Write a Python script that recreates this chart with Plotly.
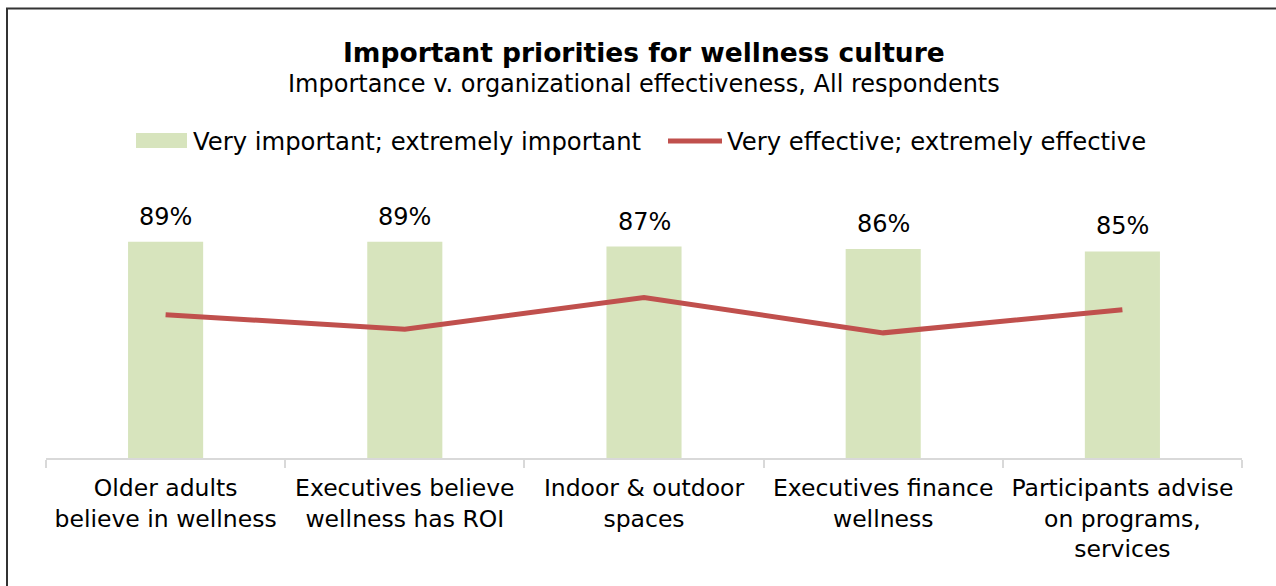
import plotly.graph_objects as go

categories = [
    "Older adults<br>believe in wellness",
    "Executives believe<br>wellness has ROI",
    "Indoor &amp; outdoor<br>spaces",
    "Executives finance<br>wellness",
    "Participants advise<br>on programs,<br>services",
]
important = [89, 89, 87, 86, 85]
effective = [59, 53, 66, 51.5, 61]

bar_name = "Very important; extremely important"
line_name = "Very effective; extremely effective"
title_text = "Important priorities for wellness culture"
subtitle_text = "Importance v. organizational effectiveness, All respondents"

FONT = "DejaVu Sans, Verdana, sans-serif"
BAR_COLOR = "#d7e4bd"
LINE_COLOR = "#c0504d"

# plot area geometry in pixels
W, H = 1276, 586
L, R, T, B = 46, 34, 215, 128
PW, PH = W - L - R, H - T - B


def px_x(x):
    return (x - L) / PW


def px_y(y):
    return (H - B - y) / PH


fig = go.Figure()
fig.add_trace(go.Bar(
    x=categories, y=important, name=bar_name,
    marker=dict(color=BAR_COLOR, line=dict(width=0)),
    width=0.314, showlegend=False,
))
fig.add_trace(go.Scatter(
    x=categories, y=effective, name=line_name, mode="lines",
    line=dict(color=LINE_COLOR, width=5), showlegend=False,
))

annotations = []
# value labels above bars
for c, v in zip(categories, important):
    annotations.append(dict(
        x=c, y=v, xref="x", yref="y", text=f"{v}%", showarrow=False,
        yanchor="bottom", yshift=9, font=dict(size=24, family=FONT, color="#000000"),
    ))
# title and subtitle
annotations.append(dict(
    x=0.5, xref="paper", y=px_y(52), yref="paper", text=f"<b>{title_text}</b>",
    showarrow=False, xanchor="center", yanchor="middle",
    font=dict(size=26.5, family=FONT, color="#000000"),
))
annotations.append(dict(
    x=0.5, xref="paper", y=px_y(84), yref="paper", text=subtitle_text,
    showarrow=False, xanchor="center", yanchor="middle",
    font=dict(size=24, family=FONT, color="#000000"),
))
# legend entries
annotations.append(dict(
    x=px_x(191), xref="paper", y=px_y(141), yref="paper", text=bar_name,
    showarrow=False, xanchor="left", yanchor="middle",
    font=dict(size=24.3, family=FONT, color="#000000"),
))
annotations.append(dict(
    x=px_x(725), xref="paper", y=px_y(141), yref="paper", text=line_name,
    showarrow=False, xanchor="left", yanchor="middle",
    font=dict(size=24.3, family=FONT, color="#000000"),
))

shapes = [
    # legend swatch for bars
    dict(type="rect", xref="paper", yref="paper",
         x0=px_x(136), x1=px_x(187), y0=px_y(148), y1=px_y(133),
         fillcolor=BAR_COLOR, line=dict(width=0)),
    # legend sample for line
    dict(type="line", xref="paper", yref="paper",
         x0=px_x(668), x1=px_x(722), y0=px_y(141), y1=px_y(141),
         line=dict(color=LINE_COLOR, width=5)),
    # outer frame of the chart area
    dict(type="rect", xref="paper", yref="paper",
         x0=px_x(7), x1=px_x(1300), y0=px_y(620), y1=px_y(8.5),
         line=dict(color="#333333", width=2), fillcolor="rgba(0,0,0,0)"),
]

fig.update_layout(
    width=W, height=H,
    margin=dict(l=L, r=R, t=T, b=B),
    paper_bgcolor="white", plot_bgcolor="white",
    font=dict(family=FONT, color="#000000", size=20),
    annotations=annotations, shapes=shapes,
    bargap=0.686, showlegend=False,
)
fig.update_xaxes(
    showline=True, linecolor="#d9d9d9", linewidth=2,
    ticks="outside", tickson="boundaries", ticklen=8, tickcolor="#d9d9d9", tickwidth=2,
    tickfont=dict(size=23.5, family=FONT), showgrid=False, ticklabelstandoff=8,
)
fig.update_yaxes(range=[0, 100], visible=False, showgrid=False)

fig.write_html("out.html")
